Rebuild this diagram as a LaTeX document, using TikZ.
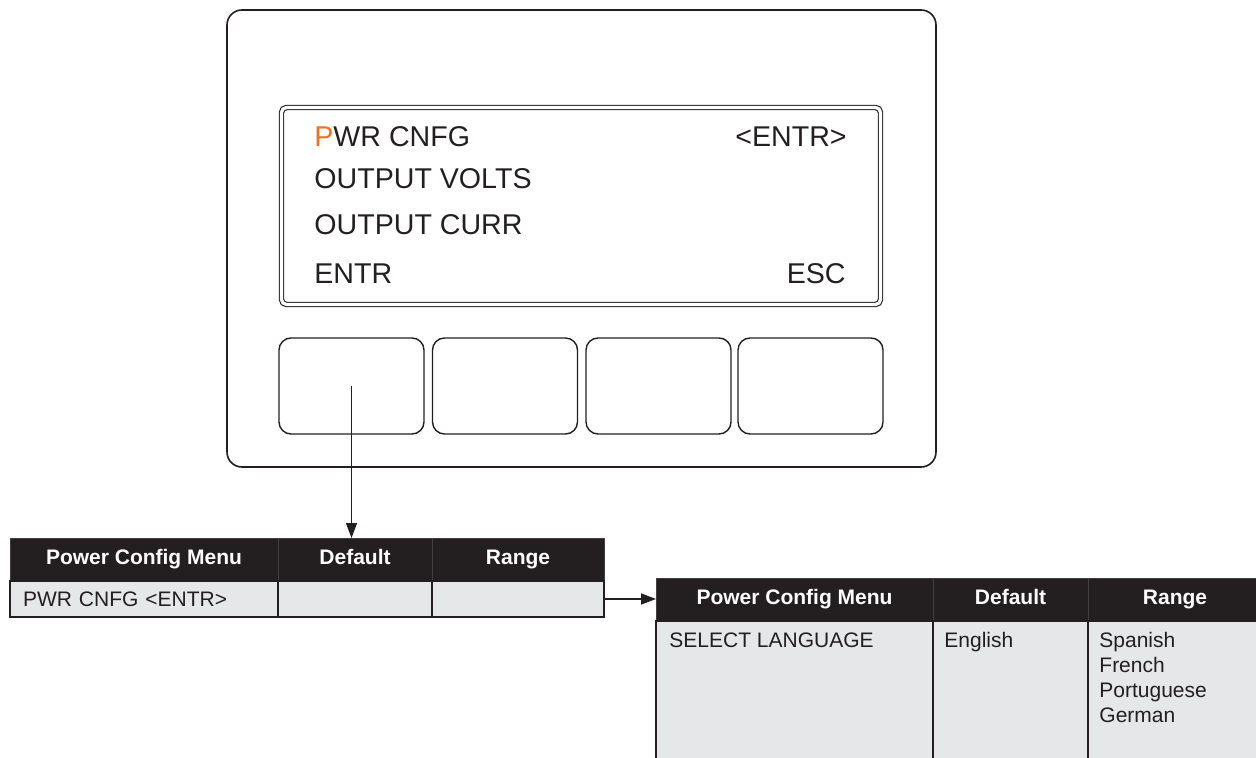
\documentclass[tikz,border=0pt]{standalone}
\usepackage{fontspec}
\setmainfont{Liberation Sans}
\usepackage{tikz}
\usetikzlibrary{positioning,arrows.meta,calc}
\definecolor{PanelInk}{RGB}{35,31,32}
\definecolor{HeadBlack}{RGB}{35,31,32}
\definecolor{CellGray}{RGB}{230,231,232}
\definecolor{LcdOrange}{RGB}{243,112,33}
\tikzset{
  panel/.style={rectangle, draw=PanelInk, line width=0.8pt, rounded corners=7.5pt, inner sep=0pt},
  lcd/.style={rectangle, draw=PanelInk, double=white, double distance=1.6pt, line width=0.55pt,
    rounded corners=2.5pt, inner sep=0pt},
  keybox/.style={rectangle, draw=PanelInk, line width=0.7pt, rounded corners=6pt,
    minimum width=72.5pt, minimum height=48pt, inner sep=0pt},
  lcdtxt/.style={inner sep=0pt, text=PanelInk, font=\fontsize{14.3}{17}\selectfont},
  hdr/.style={rectangle, fill=HeadBlack, draw=gray!50!black, line width=0.3pt, text=white,
    font=\bfseries\fontsize{10.5}{12.6}\selectfont, minimum height=21.5pt, inner sep=0pt, outer sep=0pt,
    text height=7.6pt, text depth=2.2pt},
  cell/.style={rectangle, fill=CellGray, draw=HeadBlack, line width=1.1pt, inner sep=0pt, outer sep=0pt},
  celltxt/.style={inner sep=0pt, text=HeadBlack, font=\fontsize{10.5}{12.6}\selectfont},
  arrow/.style={-{Triangle[length=7.5pt,width=5.5pt]}, line width=0.75pt, draw=PanelInk}
}
\begin{document}
\begin{tikzpicture}[x=0.5pt, y=-0.5pt]
  \useasboundingbox (0,0) rectangle (1256,758);
  \clip (0,0) rectangle (1256,758);
  \node[panel, minimum width=354.5pt, minimum height=228.5pt] (panel) at (581.5,238.5) {};
  \node[lcd, minimum width=299.5pt, minimum height=98.5pt] (lcd) at (581,206) {};
  \node[lcdtxt, anchor=base west] (l1) at (314,147) {{\color{LcdOrange}P}WR CNFG};
  \node[lcdtxt, anchor=base east] (l1r) at (847,147) {<ENTR>};
  \node[lcdtxt, anchor=base west] (l2) at (314,189) {OUTPUT VOLTS};
  \node[lcdtxt, anchor=base west] (l3) at (314,235) {OUTPUT CURR};
  \node[lcdtxt, anchor=base west] (l4) at (314,284) {ENTR};
  \node[lcdtxt, anchor=base east] (l4r) at (846,284) {ESC};
  \foreach \i/\x in {1/351.5,2/505,3/658.5,4/810.5}
    \node[keybox] (key\i) at (\x,386) {};

  \node[hdr, minimum width=134pt] (hA) at (144,559.5) {Power Config Menu};
  \node[hdr, minimum width=77pt, right=0pt of hA] (hB) {Default};
  \node[hdr, minimum width=86pt, right=0pt of hB] (hC) {Range};
  \node[cell, celltxt, minimum height=18pt, text width=121pt, inner xsep=6.5pt, align=left,
    below=0pt of hA] (rA) {PWR CNFG <ENTR>};
  \node[cell, minimum width=77pt, minimum height=18pt, below=0pt of hB] (rB) {};
  \node[cell, minimum width=86pt, minimum height=18pt, below=0pt of hC] (rC) {};

  \node[hdr, minimum width=138.5pt] (hD) at (794.5,599.5) {Power Config Menu};
  \node[hdr, minimum width=77.5pt, right=0pt of hD] (hE) {Default};
  \node[hdr, minimum width=87pt, right=0pt of hE, text width=84pt, align=center] (hF) {Range};
  \node[cell, minimum width=138.5pt, minimum height=72pt, below=0pt of hD] (rD) {};
  \node[cell, minimum width=77.5pt, minimum height=72pt, below=0pt of hE] (rE) {};
  \node[cell, minimum width=87pt, minimum height=72pt, below=0pt of hF] (rF) {};
  \node[celltxt, anchor=base west] (lang) at ([xshift=6.5pt,yshift=-13pt]rD.north west) {SELECT LANGUAGE};
  \node[celltxt, anchor=base west] (eng) at ([xshift=5.5pt,yshift=-13pt]rE.north west) {English};
  \node[celltxt, anchor=base west] (spa) at ([xshift=5.5pt,yshift=-13pt]rF.north west) {Spanish};
  \node[celltxt, anchor=base west] (fre) at ([yshift=-12.65pt]spa.base west) {French};
  \node[celltxt, anchor=base west] (por) at ([yshift=-12.65pt]fre.base west) {Portuguese};
  \node[celltxt, anchor=base west] (ger) at ([yshift=-12.65pt]por.base west) {German};

  \draw[arrow] (key1.center) -- (key1.center |- hB.north);
  \draw[arrow] (rC.east) -- (rC.east -| hD.west);
\end{tikzpicture}
\end{document}
